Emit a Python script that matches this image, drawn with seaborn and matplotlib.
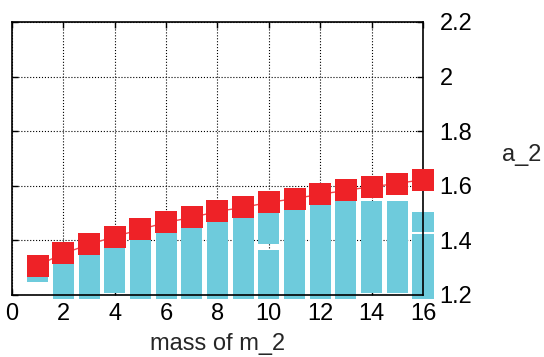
import matplotlib
matplotlib.use("Agg")
import matplotlib.pyplot as plt
import seaborn as sns
import pandas as pd

# data
mass = list(range(1, 17))
a2 = [1.308, 1.352, 1.385, 1.414, 1.440, 1.466, 1.484, 1.506,
      1.521, 1.539, 1.553, 1.569, 1.583, 1.597, 1.608, 1.623]

# light-blue floating bar segments (x, low, high)
seg_x = [1, 2, 3, 4, 5, 6, 7, 8, 9, 10, 10, 11, 12, 13, 14, 15, 16, 16]
seg_lo = [1.248, 1.185, 1.185, 1.207, 1.185, 1.185, 1.185, 1.185, 1.185,
          1.185, 1.388, 1.185, 1.185, 1.185, 1.207, 1.207, 1.185, 1.429]
seg_hi = [1.308, 1.352, 1.385, 1.414, 1.440, 1.466, 1.484, 1.506, 1.521,
          1.365, 1.539, 1.553, 1.569, 1.583, 1.544, 1.544, 1.425, 1.504]

xticks = [0, 2, 4, 6, 8, 10, 12, 14, 16]
yticks = [1.2, 1.4, 1.6, 1.8, 2.0, 2.2]
ytick_labels = ["1.2", "1.4", "1.6", "1.8", "2", "2.2"]

sns.set_style("white")
plt.rcParams['font.family'] = ['Liberation Sans', 'DejaVu Sans']

fig = plt.figure(figsize=(5.44, 3.57), dpi=100)
ax = fig.add_axes([0.022, 0.1737, 0.7556, 0.7647])

df = pd.DataFrame({"mass": mass, "a2": a2})
heights = [h - l for h, l in zip(seg_hi, seg_lo)]
ax.bar(seg_x, heights, bottom=seg_lo, width=0.82, color="#6ecbdc",
       edgecolor="none", clip_on=False, zorder=2)

sns.lineplot(data=df, x="mass", y="a2", ax=ax, color="#f0474c", lw=1,
             zorder=3, clip_on=False)
sns.lineplot(data=df, x="mass", y="a2", ax=ax, color="#ee2227", lw=0,
             marker="s", markersize=16, markeredgewidth=0, zorder=4,
             clip_on=False)

ax.set_xlim(0, 16)
ax.set_ylim(1.2, 2.2)
ax.set_xticks(xticks)
ax.set_yticks(yticks)
ax.set_yticklabels(ytick_labels)
ax.grid(True, color="black", linestyle=":", linewidth=0.8, zorder=0)
ax.set_axisbelow(True)

ax.yaxis.tick_right()
ax.tick_params(axis="both", direction="in", length=4, width=1,
               labelsize=17, colors="black", top=True, left=True,
               right=True, bottom=True)
ax.tick_params(axis="y", pad=12)
ax.tick_params(axis="x", pad=6)
for s in ax.spines.values():
    s.set_visible(True)
    s.set_color("black")
    s.set_linewidth(1.2)

ax.set_xlabel("mass of m_2", fontsize=17, va="center")
ax.xaxis.set_label_coords(0.5, -0.18)
ax.yaxis.set_label_position("right")
ax.set_ylabel("a_2", fontsize=17, rotation=0, ha="center", va="center")
ax.yaxis.set_label_coords(1.241, 0.513)

fig.savefig("out.png", dpi=100)
